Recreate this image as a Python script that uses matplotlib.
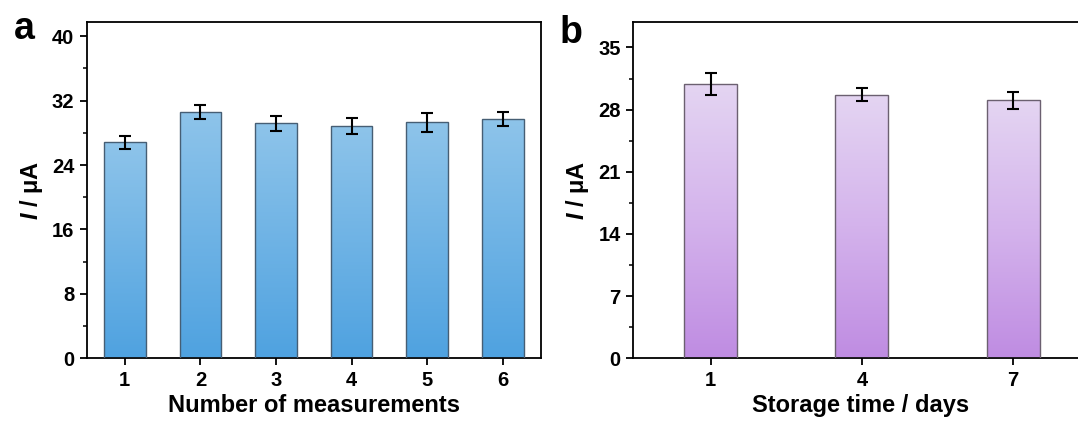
import numpy as np
import matplotlib
matplotlib.use("Agg")
import matplotlib.pyplot as plt
from matplotlib.colors import LinearSegmentedColormap
from matplotlib.ticker import MultipleLocator, AutoMinorLocator

plt.rcParams['font.family'] = ['Liberation Sans', 'DejaVu Sans']
plt.rcParams['font.weight'] = 'bold'
plt.rcParams['mathtext.fontset'] = 'custom'
plt.rcParams['mathtext.it'] = 'Liberation Sans:italic:bold'
plt.rcParams['mathtext.rm'] = 'Liberation Sans:bold'

# panel a: repeated measurements
meas = [1, 2, 3, 4, 5, 6]
meas_I = [26.8, 30.6, 29.2, 28.85, 29.3, 29.7]
meas_err = [0.8, 0.85, 0.95, 0.95, 1.15, 0.85]

# panel b: storage stability
days = [1, 4, 7]
days_I = [30.9, 29.7, 29.05]
days_err = [1.25, 0.7, 0.95]

fig = plt.figure(figsize=(10.78, 4.23), dpi=100)
ax1 = fig.add_axes([0.0807, 0.153, 0.4209, 0.7957])
ax2 = fig.add_axes([0.5872, 0.153, 0.4227, 0.7957])

blue = LinearSegmentedColormap.from_list("blue", ["#4fa2e0", "#8ec4ea"])
purple = LinearSegmentedColormap.from_list("purple", ["#bf8ce2", "#d4b3ec", "#e4d5f2"])
grad = np.linspace(0, 1, 256).reshape(-1, 1)


def gradient_bars(ax, x, y, err, width, cmap, edge):
    bars = ax.bar(x, y, width, facecolor="none", edgecolor=edge, linewidth=1.0, zorder=3)
    for b in bars:
        x0, w, h = b.get_x(), b.get_width(), b.get_height()
        im = ax.imshow(grad, cmap=cmap, origin="lower", aspect="auto",
                       extent=[x0, x0 + w, 0, h], zorder=2)
        im.set_clip_path(b)
    ax.errorbar(x, y, yerr=err, fmt="none", ecolor="black", elinewidth=1.5,
                capsize=4, capthick=1.5, zorder=4)


gradient_bars(ax1, meas, meas_I, meas_err, 0.55, blue, "#465e74")
gradient_bars(ax2, days, days_I, days_err, 1.05, purple, "#6b6070")

ax1.set_xlim(0.5, 6.5)
ax1.set_ylim(0, 41.8)
ax1.set_xticks(meas)
ax1.yaxis.set_major_locator(MultipleLocator(8))
ax1.yaxis.set_minor_locator(AutoMinorLocator(2))
ax1.set_xlabel("Number of measurements", fontsize=17, fontweight="bold", labelpad=3)

ax2.set_xlim(-0.54, 8.5)
ax2.set_ylim(0, 37.9)
ax2.set_xticks(days)
ax2.yaxis.set_major_locator(MultipleLocator(7))
ax2.yaxis.set_minor_locator(AutoMinorLocator(2))
ax2.set_xlabel("Storage time / days", fontsize=17, fontweight="bold", labelpad=3)

for ax in (ax1, ax2):
    ax.set_ylabel(r"$\mathit{I}$ / μA", fontsize=17, fontweight="bold", labelpad=5)
    for s in ax.spines.values():
        s.set_linewidth(1.3)
    ax.tick_params(axis="both", which="major", direction="out", length=5, width=1.3,
                   labelsize=14.5, pad=4)
    ax.tick_params(axis="y", which="minor", direction="out", length=3, width=1.1)
    ax.tick_params(axis="x", which="minor", bottom=False)
    for lab in ax.get_xticklabels() + ax.get_yticklabels():
        lab.set_fontweight("bold")

fig.text(14 / 1078, 1 - 39 / 423, "a", fontsize=27, fontweight="bold", va="baseline")
fig.text(560 / 1078, 1 - 43 / 423, "b", fontsize=27, fontweight="bold", va="baseline")

fig.savefig("out.png", dpi=100)
